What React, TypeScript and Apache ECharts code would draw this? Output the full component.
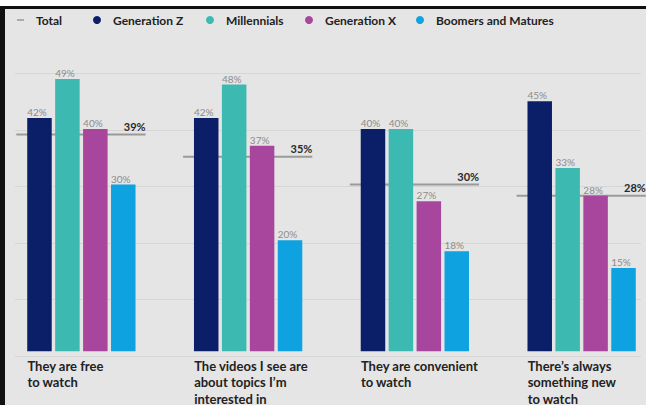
import React, { useEffect, useRef } from "react";
import * as echarts from "echarts";

const categories = [
  "They are free\nto watch",
  "The videos I see are\nabout topics I’m\ninterested in",
  "They are convenient\nto watch",
  "There’s always\nsomething new\nto watch",
];
const genZ = [42, 42, 40, 45];
const millennials = [49, 48, 40, 33];
const genX = [40, 37, 27, 28];
const boomers = [30, 20, 18, 15];
const total = [39, 35, 30, 28];

const FONT = "Lato, 'Noto Sans', sans-serif";
const COLORS = {
  total: "#aaaaaa",
  genZ: "#0b1f68",
  millennials: "#3cb9b0",
  genX: "#a8469e",
  boomers: "#0ea2e0",
};

// the chart canvas is shifted left so the bar grid may extend past the page edges
const SHIFT = 20;
const CHART_W = 706;

function barSeries(name: string, data: number[], color: string) {
  return {
    name,
    type: "bar",
    xAxisIndex: 1,
    yAxisIndex: 1,
    data,
    z: 3,
    barWidth: 24.5,
    barGap: "14%",
    itemStyle: { color },
    label: {
      show: true,
      position: [0, -1],
      align: "left",
      verticalAlign: "bottom",
      formatter: "{c}%",
      fontFamily: FONT,
      fontSize: 10,
      color: "#8c8c8c",
    },
  };
}

function legendItem(name: string, left: number, color: string, isTotal = false) {
  return {
    left: left + SHIFT,
    top: 14,
    padding: 0,
    selectedMode: false,
    itemWidth: isTotal ? 7 : 8,
    itemHeight: isTotal ? 2 : 8,
    data: [{ name, icon: isTotal ? "rect" : "circle", itemStyle: { color } }],
    textStyle: {
      fontFamily: FONT,
      fontSize: 12,
      fontWeight: "bold",
      color: "#222",
      padding: [0, 0, 0, 7],
    },
  };
}

export default function App() {
  const ref = useRef<HTMLDivElement>(null);

  useEffect(() => {
    if (!ref.current) return;
    const chart = echarts.init(ref.current, null, { renderer: "svg" });
    chart.setOption({
      animation: false,
      backgroundColor: "transparent",
      legend: [
        legendItem("Total", 17, COLORS.total, true),
        legendItem("Generation Z", 93, COLORS.genZ),
        legendItem("Millennials", 206, COLORS.millennials),
        legendItem("Generation X", 305, COLORS.genX),
        legendItem("Boomers and Matures", 416, COLORS.boomers),
      ],
      grid: [
        { left: 15 + SHIFT, right: CHART_W - 641 - SHIFT, top: 73.5, bottom: 49 },
        { left: -2 + SHIFT, width: 667, top: 73.5, bottom: 49 },
      ],
      xAxis: [
        { type: "value", gridIndex: 0, show: false, min: 0, max: 1 },
        {
          type: "category",
          gridIndex: 1,
          data: categories,
          axisLine: { show: false },
          axisTick: { show: false },
          axisLabel: {
            interval: 0,
            margin: 6,
            align: "center",
            formatter: (v: string) =>
              v
                .split("\n")
                .map((l) => `{a|${l}}`)
                .join("\n"),
            rich: {
              a: {
                width: 108,
                align: "left",
                fontFamily: FONT,
                fontSize: 13,
                fontWeight: "bold",
                color: "#222",
                lineHeight: 16.5,
              },
            },
          },
        },
      ],
      yAxis: [
        {
          type: "value",
          gridIndex: 0,
          min: 0,
          max: 50,
          interval: 10,
          axisLine: { show: false },
          axisTick: { show: false },
          axisLabel: { show: false },
          splitLine: { show: true, lineStyle: { color: "#d6d6d6", width: 1 } },
        },
        {
          type: "value",
          gridIndex: 1,
          min: 0,
          max: 50,
          interval: 10,
          show: false,
          splitLine: { show: false },
        },
      ],
      series: [
        barSeries("Generation Z", genZ, COLORS.genZ),
        barSeries("Millennials", millennials, COLORS.millennials),
        barSeries("Generation X", genX, COLORS.genX),
        barSeries("Boomers and Matures", boomers, COLORS.boomers),
        {
          name: "Total",
          type: "custom",
          xAxisIndex: 1,
          yAxisIndex: 1,
          itemStyle: { color: COLORS.total },
          data: total.map((v, i) => [i, v]),
          z: 1,
          renderItem: (params: any, api: any) => {
            const idx = api.value(0);
            const val = api.value(1);
            const p = api.coord([idx, val]);
            const bw = api.size([1, 0])[0];
            const x1 = p[0] - 0.39 * bw;
            const x2 = p[0] + 0.385 * bw;
            return {
              type: "group",
              children: [
                {
                  type: "line",
                  shape: { x1, y1: p[1], x2, y2: p[1] },
                  style: { stroke: "#9a9a9a", lineWidth: 2 },
                },
                {
                  type: "text",
                  x: x2,
                  y: p[1] - 3,
                  style: {
                    text: `${val}%`,
                    align: "right",
                    verticalAlign: "bottom",
                    fontFamily: FONT,
                    fontSize: 11,
                    fontWeight: "bold",
                    fill: "#2a2a2a",
                  },
                },
              ],
            };
          },
        },
      ],
    });
    return () => chart.dispose();
  }, []);

  return (
    <div
      style={{
        position: "fixed",
        left: 0,
        top: 0,
        width: 646,
        height: 405,
        background: "#ffffff",
        overflow: "hidden",
      }}
    >
      <div
        style={{
          position: "absolute",
          left: 0,
          top: 6,
          right: 0,
          bottom: 0,
          background: "#e5e5e5",
          borderTop: "3px solid #111",
          borderLeft: "5px solid #111",
        }}
      />
      <div
        ref={ref}
        style={{ position: "absolute", left: -SHIFT, top: 0, width: CHART_W, height: 405 }}
      />
    </div>
  );
}
